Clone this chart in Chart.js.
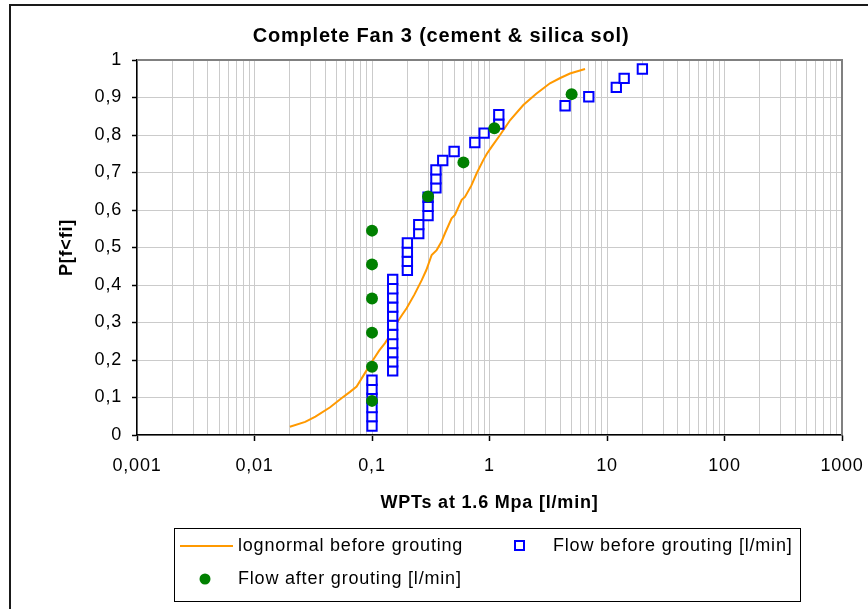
<!DOCTYPE html>
<html lang="en">
<head>
<meta charset="UTF-8">
<title>Complete Fan 3 (cement &amp; silica sol)</title>
<script src="https://cdn.jsdelivr.net/npm/chart.js"></script>
<style>
  html, body { margin: 0; padding: 0; background: #fff; }
</style>
</head>
<body>
<canvas id="fanChart" width="868" height="609"></canvas>
<script>
// lognormal curve before grouting
const lognormalX = [0.020, 0.027, 0.033, 0.044, 0.055, 0.065, 0.074, 0.087, 0.103, 0.115, 0.129, 0.145,
                    0.162, 0.180, 0.197, 0.230, 0.265, 0.29, 0.322, 0.355, 0.39, 0.418, 0.476, 0.508,
                    0.58, 0.618, 0.70, 0.778, 0.885, 0.95, 1.045, 1.23, 1.5, 1.94, 2.5, 3.27, 4.0, 4.84, 6.5];
const lognormalP = [0.022, 0.035, 0.049, 0.074, 0.098, 0.115, 0.129, 0.165, 0.202, 0.225, 0.245, 0.27,
                    0.298, 0.32, 0.338, 0.375, 0.413, 0.44, 0.48, 0.493, 0.515, 0.538, 0.578, 0.587,
                    0.627, 0.635, 0.665, 0.698, 0.733, 0.75, 0.769, 0.8, 0.84, 0.88, 0.91, 0.938, 0.952, 0.964, 0.976];

// Flow before grouting [l/min]
const flowBeforeX = [0.1, 0.1, 0.1, 0.1, 0.1, 0.1,
                     0.15, 0.15, 0.15, 0.15, 0.15, 0.15, 0.15, 0.15, 0.15, 0.15, 0.15,
                     0.2, 0.2, 0.2, 0.2, 0.25, 0.25, 0.3, 0.3, 0.3, 0.35, 0.35, 0.35,
                     0.4, 0.5, 0.75, 0.9, 1.2, 1.2, 4.4, 7, 12, 14, 20];
const flowBeforeP = [0.024, 0.049, 0.073, 0.098, 0.122, 0.146, 0.171, 0.195, 0.22, 0.244,
                     0.268, 0.293, 0.317, 0.341, 0.366, 0.39, 0.415, 0.439, 0.463, 0.488,
                     0.512, 0.537, 0.561, 0.585, 0.61, 0.634, 0.659, 0.683, 0.707, 0.732,
                     0.756, 0.78, 0.805, 0.829, 0.854, 0.878, 0.902, 0.927, 0.951, 0.976];

// Flow after grouting [l/min]
const flowAfterX = [0.1, 0.1, 0.1, 0.1, 0.1, 0.1, 0.3, 0.6, 1.1, 5];
const flowAfterP = [0.091, 0.182, 0.273, 0.364, 0.455, 0.545, 0.636, 0.727, 0.818, 0.909];

const xTickValues = [0.001, 0.01, 0.1, 1, 10, 100, 1000];
const xTickLabels = ['0,001', '0,01', '0,1', '1', '10', '100', '1000'];

const LINE_COLOR = '#ff9900';
const SQUARE_COLOR = '#0000ff';
const DOT_COLOR = '#008000';
const GRID_COLOR = '#cbcbcb';

Chart.defaults.font.family = '"Liberation Sans", Arial, sans-serif';
Chart.defaults.font.size = 18;
Chart.defaults.color = '#000';

function isDecade(v) {
    return xTickValues.some(t => Math.abs(t - v) / t < 1e-6);
}

// all log gridlines: 1..9 in every decade
function logGridValues() {
    const vals = [];
    for (let k = -3; k < 3; k++) {
        for (let m = 1; m < 10; m++) {
            vals.push(Number((m * Math.pow(10, k)).toPrecision(3)));
        }
    }
    vals.push(1000);
    return vals;
}

// Excel-like wide text
const spacing = {
    id: 'spacing',
    beforeLayout(chart) { chart.ctx.letterSpacing = '0.8px'; },
    beforeDraw(chart) { chart.ctx.letterSpacing = '0.8px'; }
};

const frame = {
    id: 'frame',
    beforeDraw(chart) {
        const ctx = chart.ctx;
        ctx.save();
        ctx.fillStyle = '#fff';
        ctx.fillRect(0, 0, chart.width, chart.height);
        ctx.strokeStyle = '#1a1a1a';
        ctx.lineWidth = 2;
        ctx.beginPath();
        ctx.moveTo(10, chart.height);
        ctx.lineTo(10, 5);
        ctx.lineTo(chart.width, 5);
        ctx.stroke();
        ctx.restore();
    },
    beforeDatasetsDraw(chart) {
        const {ctx, chartArea: a} = chart;
        ctx.save();
        ctx.strokeStyle = '#808080';
        ctx.lineWidth = 2;
        ctx.beginPath();
        ctx.moveTo(a.left, a.top);
        ctx.lineTo(a.right, a.top);
        ctx.lineTo(a.right, a.bottom);
        ctx.stroke();
        ctx.restore();
    }
};

const boxLegend = {
    id: 'boxLegend',
    afterDraw(chart) {
        const ctx = chart.ctx;
        ctx.save();
        ctx.letterSpacing = '0.8px';
        ctx.strokeStyle = '#000';
        ctx.lineWidth = 1;
        ctx.strokeRect(174.5, 528.5, 626, 73);

        ctx.font = '18px "Liberation Sans", Arial, sans-serif';
        ctx.fillStyle = '#000';
        ctx.textBaseline = 'middle';
        const ds = chart.data.datasets;

        // row 1: line + squares
        ctx.strokeStyle = LINE_COLOR;
        ctx.lineWidth = 2;
        ctx.beginPath();
        ctx.moveTo(180, 546);
        ctx.lineTo(233, 546);
        ctx.stroke();
        ctx.fillText(ds[0].label, 238, 546);

        ctx.strokeStyle = SQUARE_COLOR;
        ctx.fillStyle = '#fff';
        ctx.lineWidth = 2;
        ctx.fillRect(515, 541, 9, 9);
        ctx.strokeRect(515, 541, 9, 9);
        ctx.fillStyle = '#000';
        ctx.fillText(ds[1].label, 553, 546);

        // row 2: dots
        ctx.fillStyle = DOT_COLOR;
        ctx.beginPath();
        ctx.arc(205, 579, 5.5, 0, Math.PI * 2);
        ctx.fill();
        ctx.fillStyle = '#000';
        ctx.fillText(ds[2].label, 238, 579);
        ctx.restore();
    }
};

const ctx = document.getElementById('fanChart').getContext('2d');
const fanChart = new Chart(ctx, {
    type: 'scatter',
    data: {
        datasets: [{
            label: 'lognormal before grouting',
            data: lognormalX.map((x, i) => ({x: x, y: lognormalP[i]})),
            showLine: true,
            borderColor: LINE_COLOR,
            borderWidth: 2,
            pointRadius: 0,
            tension: 0,
            order: 3
        }, {
            label: 'Flow before grouting [l/min]',
            data: flowBeforeX.map((x, i) => ({x: x, y: flowBeforeP[i]})),
            pointStyle: 'rect',
            pointRadius: 6.6,
            borderColor: SQUARE_COLOR,
            backgroundColor: '#fff',
            borderWidth: 2,
            order: 2
        }, {
            label: 'Flow after grouting [l/min]',
            data: flowAfterX.map((x, i) => ({x: x, y: flowAfterP[i]})),
            pointStyle: 'circle',
            pointRadius: 6,
            borderWidth: 0,
            backgroundColor: DOT_COLOR,
            borderColor: DOT_COLOR,
            order: 1
        }]
    },
    options: {
        responsive: false,
        animation: false,
        layout: {
            padding: {left: 40, right: 26, top: 0, bottom: 94}
        },
        plugins: {
            legend: { display: false },
            tooltip: { enabled: false },
            title: {
                display: true,
                text: 'Complete Fan 3 (cement & silica sol)',
                font: { size: 20, weight: 'bold' },
                padding: { top: 24, bottom: 12 },
                color: '#000'
            }
        },
        scales: {
            x: {
                type: 'logarithmic',
                min: 0.001,
                max: 1000,
                afterBuildTicks(scale) {
                    scale.ticks = logGridValues().map(v => ({value: v, major: isDecade(v)}));
                },
                afterFit(scale) {
                    scale.height = 80;
                    // "1000" fits inside the right padding
                    scale.paddingLeft = 0;
                    scale.paddingRight = 0;
                },
                ticks: {
                    autoSkip: false,
                    maxRotation: 0,
                    padding: 14,
                    callback(value) {
                        const k = xTickValues.findIndex(t => Math.abs(t - value) / t < 1e-6);
                        return k >= 0 ? xTickLabels[k] : '';
                    }
                },
                grid: {
                    color: GRID_COLOR,
                    lineWidth: 1,
                    tickLength: 6,
                    tickWidth: 1.5,
                    tickColor: c => (c.tick && isDecade(c.tick.value)) ? '#000' : 'rgba(0,0,0,0)'
                },
                border: { color: '#000', width: 1.5 },
                title: {
                    display: true,
                    text: 'WPTs at 1.6 Mpa [l/min]',
                    font: { size: 18, weight: 'bold' },
                    padding: { top: 0, bottom: 1 }
                }
            },
            y: {
                min: 0,
                max: 1,
                afterFit(scale) { scale.width = 97; },
                ticks: {
                    stepSize: 0.1,
                    padding: 10,
                    callback: v => String(Math.round(v * 10) / 10).replace('.', ',')
                },
                grid: {
                    color: GRID_COLOR,
                    lineWidth: 1,
                    tickLength: 5,
                    tickWidth: 1.5,
                    tickColor: '#000'
                },
                border: { color: '#000', width: 1.5 },
                title: {
                    display: true,
                    text: 'P[f<fi]',
                    font: { size: 18, weight: 'bold' },
                    padding: { top: 16, bottom: 0 }
                }
            }
        }
    },
    plugins: [spacing, frame, boxLegend]
});
</script>
</body>
</html>
